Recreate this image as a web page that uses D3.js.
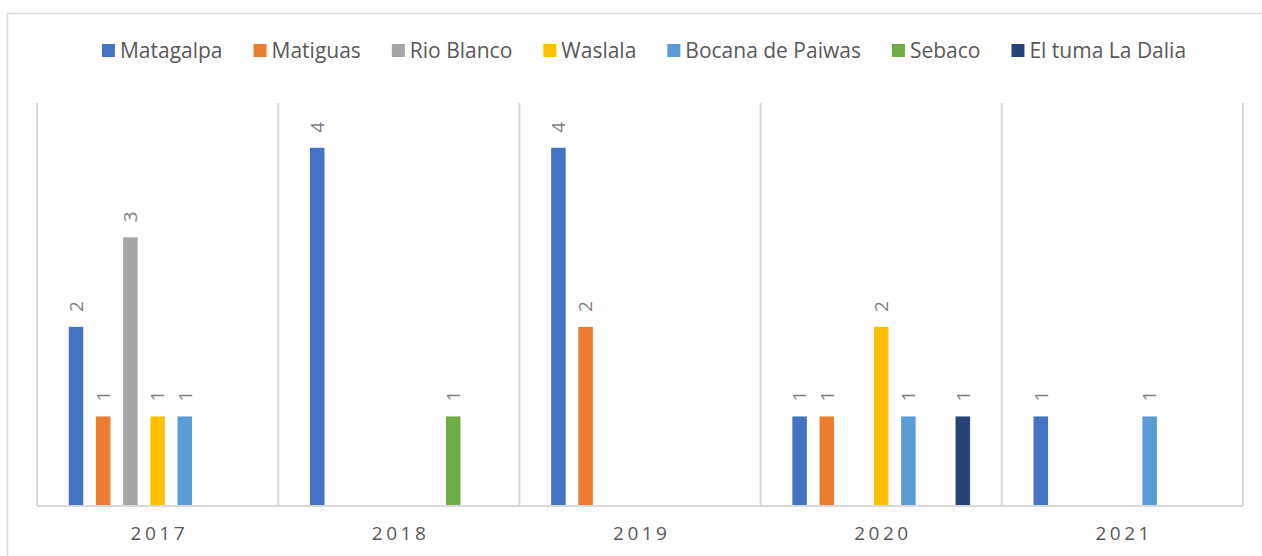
<!DOCTYPE html>
<html>
<head>
<meta charset="utf-8">
<script src="https://cdn.jsdelivr.net/npm/d3@7"></script>
<style>
  body { margin: 0; background: #fff; }
  svg { display: block; }
</style>
</head>
<body>
<svg id="chart"></svg>
<script>
// Chart data (one array per series, one value per year; null = no bar)
const years = ["2017", "2018", "2019", "2020", "2021"];
const series_names = ["Matagalpa", "Matiguas", "Rio Blanco", "Waslala", "Bocana de Paiwas", "Sebaco", "El tuma La Dalia"];
const matagalpa = [2, 4, 4, 1, 1];
const matiguas = [1, null, 2, 1, null];
const rio_blanco = [3, null, null, null, null];
const waslala = [1, null, null, 2, null];
const bocana = [1, null, null, 1, 1];
const sebaco = [null, 1, null, null, null];
const el_tuma = [null, null, null, 1, null];
const series_values = [matagalpa, matiguas, rio_blanco, waslala, bocana, sebaco, el_tuma];

// Excel-like palette
const colors = ["#4472C4", "#ED7D31", "#A5A5A5", "#FFC000", "#5B9BD5", "#70AD47", "#264478"];

const width = 1262, height = 556;
const margin = { top: 103, right: 19, bottom: 50, left: 37 };
const grid_color = "#d9d9d9";
const text_color = "#595959";
const font = "'Open Sans', sans-serif";

const svg = d3.select("#chart")
    .attr("width", width)
    .attr("height", height);

// Chart frame (cut by the picture edges on the right and bottom)
svg.append("rect")
    .attr("x", 7.5).attr("y", 13.5)
    .attr("width", width).attr("height", height)
    .attr("fill", "none")
    .attr("stroke", grid_color)
    .attr("stroke-width", 1.5);

// Scales
const x0 = d3.scaleBand()
    .domain(years)
    .range([margin.left, width - margin.right])
    .padding(0);

const x1 = d3.scaleBand()
    .domain(series_names)
    .range([0, x0.bandwidth()])
    .paddingInner(0.467)
    .paddingOuter(1.167);

const y = d3.scaleLinear()
    .domain([0, 4.5])
    .range([height - margin.bottom, margin.top]);

// Vertical category separators
svg.append("g")
    .selectAll("line")
    .data(years.concat(["end"]))
    .join("line")
    .attr("x1", (d, i) => margin.left + i * x0.step())
    .attr("x2", (d, i) => margin.left + i * x0.step())
    .attr("y1", margin.top)
    .attr("y2", y(0))
    .attr("stroke", grid_color)
    .attr("stroke-width", 2);

// Build one row per bar
const bar_rows = [];
series_values.forEach((values, s) => {
    values.forEach((v, i) => {
        if (v !== null) bar_rows.push({ year: years[i], series: series_names[s], value: v, color: colors[s] });
    });
});

// Bars
svg.append("g")
    .selectAll("rect")
    .data(bar_rows)
    .join("rect")
    .attr("x", d => x0(d.year) + x1(d.series))
    .attr("y", d => y(d.value))
    .attr("width", x1.bandwidth())
    .attr("height", d => y(0) - y(d.value))
    .attr("fill", d => d.color);

// Rotated value labels above the bars
svg.append("g")
    .selectAll("text")
    .data(bar_rows)
    .join("text")
    .attr("transform", d => "translate(" + (x0(d.year) + x1(d.series) + x1.bandwidth() / 2) + "," + (y(d.value) - 15) + ") rotate(-90)")
    .attr("dy", "0.36em")
    .attr("text-anchor", "start")
    .style("font-family", font)
    .style("font-size", "19px")
    .attr("fill", "#7f7f7f")
    .text(d => d.value);

// X axis line
svg.append("line")
    .attr("x1", margin.left).attr("x2", width - margin.right)
    .attr("y1", y(0)).attr("y2", y(0))
    .attr("stroke", grid_color)
    .attr("stroke-width", 2);

// X axis labels
svg.append("g")
    .selectAll("text")
    .data(years)
    .join("text")
    .attr("x", d => x0(d) + x0.bandwidth() / 2 + 1.75)
    .attr("y", y(0) + 34)
    .attr("text-anchor", "middle")
    .style("font-family", font)
    .style("font-size", "19px")
    .style("letter-spacing", "3.5px")
    .attr("fill", text_color)
    .text(d => d);

// Legend, laid out from measured text widths and centered
const legend = svg.append("g");
const items = legend.selectAll("g")
    .data(series_names)
    .join("g");
items.append("rect")
    .attr("width", 13).attr("height", 13)
    .attr("y", -14)
    .attr("fill", (d, i) => colors[i]);
items.append("text")
    .attr("x", 18)
    .style("font-family", font)
    .style("font-size", "21px")
    .attr("fill", text_color)
    .text(d => d);

const item_gap = 31;
let offset = 0;
items.each(function () {
    const g = d3.select(this);
    g.attr("transform", "translate(" + offset + ",58)");
    offset += 18 + g.select("text").node().getComputedTextLength() + item_gap;
});
const legend_width = offset - item_gap;
legend.attr("transform", "translate(" + (644 - legend_width / 2) + ",0)");
</script>
</body>
</html>
